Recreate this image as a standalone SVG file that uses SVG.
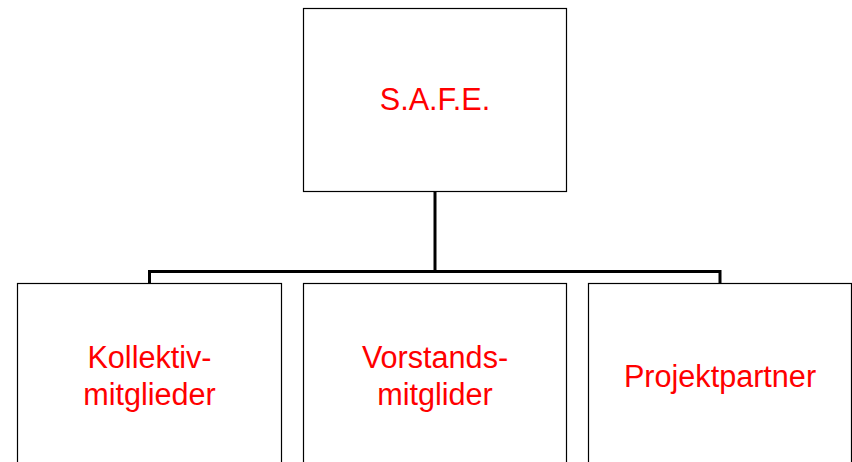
<svg xmlns="http://www.w3.org/2000/svg" width="852" height="462" viewBox="0 0 852 462">
<style>
.box{fill:#fff;stroke:#000;stroke-width:1.2}
.lbl{font-family:"Liberation Sans",Arial,sans-serif;font-size:30.6px;fill:#ff0000;text-anchor:middle}
.con{fill:none;stroke:#000;stroke-width:3;stroke-linecap:square;stroke-linejoin:miter}
</style>
<rect width="852" height="462" fill="#fff"/>
<g id="connectors">
<path class="con" d="M435,192 V271.5"/>
<path class="con" d="M149.5,283 V271.5 H720 V283"/>
</g>
<g id="safe">
<rect class="box" x="303.5" y="8.5" width="263" height="183"/>
<text class="lbl" x="435" y="110">S.A.F.E.</text>
</g>
<g id="kollektiv">
<rect class="box" x="17.5" y="283.5" width="264" height="190"/>
<text class="lbl" x="149.5" y="368">Kollektiv-</text>
<text class="lbl" x="149.5" y="405">mitglieder</text>
</g>
<g id="vorstand">
<rect class="box" x="303.5" y="283.5" width="263" height="190"/>
<text class="lbl" x="435" y="368">Vorstands-</text>
<text class="lbl" x="435" y="405">mitglider</text>
</g>
<g id="projektpartner">
<rect class="box" x="588.5" y="283.5" width="263" height="190"/>
<text class="lbl" x="720" y="387">Projektpartner</text>
</g>
</svg>
